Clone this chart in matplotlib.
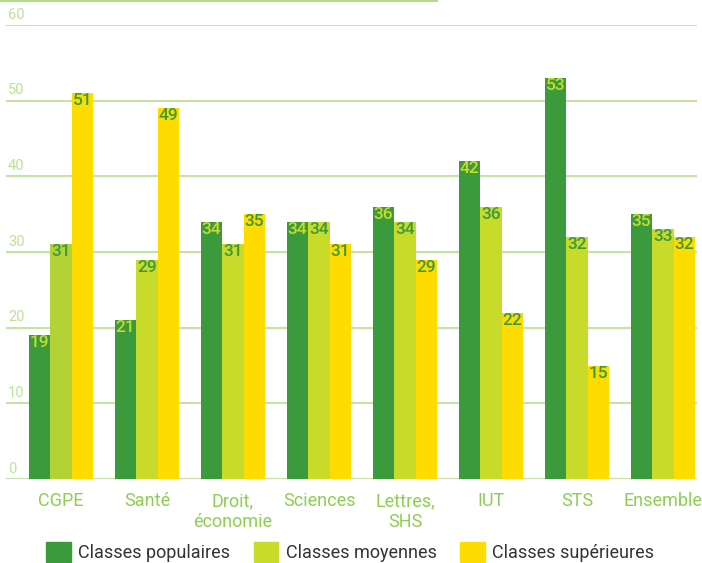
import matplotlib
matplotlib.use("Agg")
import matplotlib.pyplot as plt
from matplotlib.patches import Patch
from matplotlib.lines import Line2D
import matplotlib.transforms as mtransforms
import numpy as np

plt.rcParams['font.family'] = ['Roboto', 'DejaVu Sans']

categories = ["CGPE", "Santé", "Droit,\néconomie", "Sciences", "Lettres,\nSHS", "IUT", "STS", "Ensemble"]
populaires = [19, 21, 34, 34, 36, 42, 53, 35]
moyennes = [31, 29, 31, 34, 34, 36, 32, 33]
superieures = [51, 49, 35, 31, 29, 22, 15, 32]
series_names = ["Classes populaires", "Classes moyennes", "Classes supérieures"]
yticks = [0, 10, 20, 30, 40, 50, 60]

c_dark = "#3b9a3b"
c_mid = "#c8da2a"
c_mid_first = "#b2d235"
c_yel = "#ffdc00"
c_grid = "#c4e3a4"
c_tick = "#bfe09a"
c_xlab = "#8dcf50"

fig = plt.figure(figsize=(7.02, 5.63), dpi=100)
W, H = 702, 563
ax = fig.add_axes([6 / W, (H - 479) / H, (697 - 6) / W, (479 - 25) / H])

x = np.arange(len(categories))
w = 0.25
mid_colors = [c_mid_first] + [c_mid] * (len(categories) - 1)
series = [
    (populaires, -w, [c_dark] * len(categories), c_mid),
    (moyennes, 0, mid_colors, c_dark),
    (superieures, w, [c_yel] * len(categories), c_dark),
]

for yv in yticks:
    ax.axhline(yv, color=c_grid, lw=1.5, zorder=1)

for vals, off, cols, lab_col in series:
    bars = ax.bar(x + off, vals, width=w, color=cols, zorder=2, linewidth=0)
    for b, v in zip(bars, vals):
        ax.text(b.get_x() + b.get_width() / 2, v, str(v), ha='center', va='top',
                fontsize=12.5, fontweight='medium', color=lab_col, zorder=3,
                transform=ax.transData)

ax.set_xlim(-0.64, 7.395)
ax.set_ylim(0, 60)
for s in ax.spines.values():
    s.set_visible(False)
ax.set_yticks([])
ax.set_xticks(x)
ax.set_xticklabels(categories, fontsize=13, color=c_xlab, linespacing=1.2)
ax.tick_params(axis='x', length=0, pad=9.5)

trans = mtransforms.blended_transform_factory(ax.transAxes, ax.transData)
for yv in yticks:
    ax.text(0.0, yv, str(yv), transform=mtransforms.offset_copy(trans, fig=fig, x=1.5, y=2.5, units='points'),
            ha='left', va='bottom', fontsize=10.5, color=c_tick)

# top line fragment
fig.add_artist(Line2D([0, 437 / W], [1 - 1 / H, 1 - 1 / H], color="#b5dc8c", lw=1.5, transform=fig.transFigure))

handles = [Patch(color=c_dark), Patch(color=c_mid), Patch(color=c_yel)]
fig.legend(handles, series_names, loc='center', bbox_to_anchor=(350 / W, 1 - 552 / H), ncol=3,
           frameon=False, fontsize=13, handlelength=1.38, handleheight=1.28, handletextpad=0.39,
           columnspacing=1.3, labelcolor="#333333", borderpad=0)

fig.savefig("out.png", dpi=100)
